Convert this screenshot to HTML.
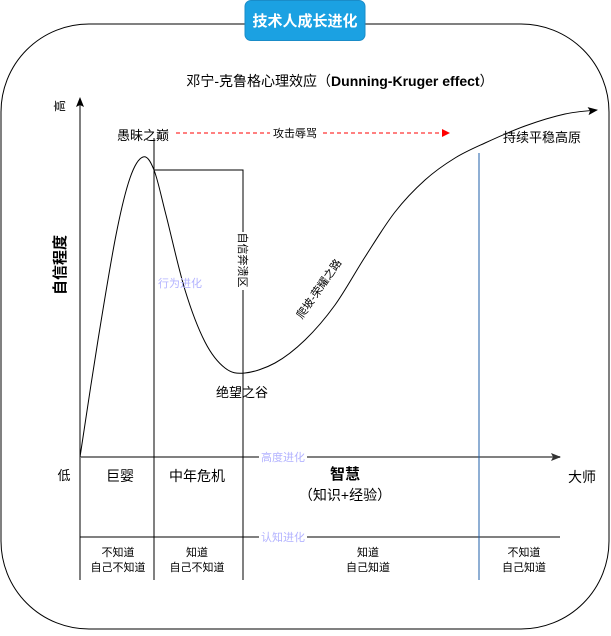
<!DOCTYPE html>
<html><head><meta charset="utf-8"><style>
body{margin:0;background:#fff;width:611px;height:631px;overflow:hidden;font-family:"Liberation Sans","Noto Sans CJK SC",sans-serif}
</style></head><body>
<svg width="611" height="631" viewBox="0 0 611 631" style="font-family:'Liberation Sans','Noto Sans CJK SC',sans-serif">
<defs>
<marker id="ah" markerUnits="userSpaceOnUse" markerWidth="10" markerHeight="10" refX="9" refY="5" orient="auto"><path d="M0,1L10,5L0,9L2,5z" fill="#000"/></marker>
<marker id="ahg" markerUnits="userSpaceOnUse" markerWidth="10" markerHeight="10" refX="9" refY="5" orient="auto"><path d="M0,1L10,5L0,9L2,5z" fill="#333"/></marker>
<marker id="ahr" markerUnits="userSpaceOnUse" markerWidth="8" markerHeight="8" refX="7" refY="4" orient="auto"><path d="M0,0L8,4L0,8z" fill="#f00"/></marker>
</defs>
<rect x="1" y="24" width="608" height="605" rx="88" ry="88" fill="none" stroke="#000" stroke-width="1"/>
<g>
<rect x="245" y="0.5" width="120" height="40" rx="6" fill="#1ba1e2" stroke="#1a8cc8"/>
<text x="305" y="26" text-anchor="middle" font-size="15" font-weight="bold" fill="#fff">技术人成长进化</text>
</g>
<text x="340" y="86" text-anchor="middle" font-size="14">邓宁-克鲁格心理效应（<tspan font-weight="bold">Dunning-Kruger effect</tspan>）</text>
<line x1="80" y1="580" x2="80" y2="98" stroke="#000" marker-end="url(#ah)"/>
<line x1="80" y1="457" x2="560" y2="457" stroke="#808080" stroke-width="2" marker-end="url(#ahg)"/>
<line x1="80" y1="537" x2="560" y2="537" stroke="#000"/>
<line x1="154" y1="138" x2="154" y2="580" stroke="#000"/>
<polyline points="154,170 243,170 243,580" fill="none" stroke="#000"/>
<line x1="479" y1="153" x2="479" y2="580" stroke="#1f5fa8"/>
<path id="curve" fill="none" stroke="#000" stroke-width="1" marker-end="url(#ah)"/>
<line x1="176" y1="133" x2="449" y2="133" stroke="#f00" stroke-dasharray="4,3" marker-end="url(#ahr)"/>
<rect x="270" y="124" width="50" height="16" fill="#fff"/>
<text x="295" y="137" text-anchor="middle" font-size="11">攻击辱骂</text>
<text x="143" y="140" text-anchor="middle" font-size="13">愚昧之巅</text>
<text x="542" y="142" text-anchor="middle" font-size="13">持续平稳高原</text>
<text x="242" y="397" text-anchor="middle" font-size="13">绝望之谷</text>
<text x="180" y="287" text-anchor="middle" font-size="11" fill="#b3b3ff">行为进化</text>
<rect x="237" y="232" width="12" height="58" fill="#fff"/>
<text transform="translate(239,260) rotate(90)" text-anchor="middle" font-size="11">自信奔溃区</text>
<text transform="translate(322,291) rotate(-55)" text-anchor="middle" font-size="11">爬坡-荣耀之路</text>
<text transform="translate(64,106) rotate(-90)" text-anchor="middle" font-size="12">高</text>
<text transform="translate(65,265) rotate(-90)" text-anchor="middle" font-size="15" font-weight="bold">自信程度</text>
<text x="64" y="480" text-anchor="middle" font-size="13">低</text>
<text x="582" y="482" text-anchor="middle" font-size="14">大师</text>
<rect x="259" y="449" width="48" height="16" fill="#fff"/>
<text x="283" y="461" text-anchor="middle" font-size="11" fill="#b3b3ff">高度进化</text>
<rect x="259" y="529" width="48" height="16" fill="#fff"/>
<text x="283" y="541" text-anchor="middle" font-size="11" fill="#b3b3ff">认知进化</text>
<text x="120" y="481" text-anchor="middle" font-size="14">巨婴</text>
<text x="197" y="481" text-anchor="middle" font-size="14">中年危机</text>
<text x="345" y="479" text-anchor="middle" font-size="15" font-weight="bold">智慧</text>
<text x="345" y="500" text-anchor="middle" font-size="14">（知识+经验）</text>
<g font-size="11" text-anchor="middle">
<text x="118" y="556">不知道</text><text x="118" y="571">自己不知道</text>
<text x="197" y="556">知道</text><text x="197" y="571">自己不知道</text>
<text x="368" y="556">知道</text><text x="368" y="571">自己知道</text>
<text x="524" y="556">不知道</text><text x="524" y="571">自己知道</text>
</g>
</svg>
<script>
const curveX=[80,98,116,130,143,154,166,185,205,225,245,275,305,335,365,395,425,455,485,525,565,597];
const curveY=[457,340,235,178,157,170,215,290,342,368,373,363,340,305,257,212,180,158,143,126,114,110];
const p=curveX.map((x,i)=>[x,curveY[i]]);
let d='M'+p[0][0]+','+p[0][1];
for(let i=0;i<p.length-1;i++){
  const p0=p[Math.max(0,i-1)],p1=p[i],p2=p[i+1],p3=p[Math.min(p.length-1,i+2)];
  const c1=[p1[0]+(p2[0]-p0[0])/6,p1[1]+(p2[1]-p0[1])/6];
  const c2=[p2[0]-(p3[0]-p1[0])/6,p2[1]-(p3[1]-p1[1])/6];
  d+=` C${c1[0]},${c1[1]} ${c2[0]},${c2[1]} ${p2[0]},${p2[1]}`;
}
document.getElementById('curve').setAttribute('d',d);
</script>
</body></html>
